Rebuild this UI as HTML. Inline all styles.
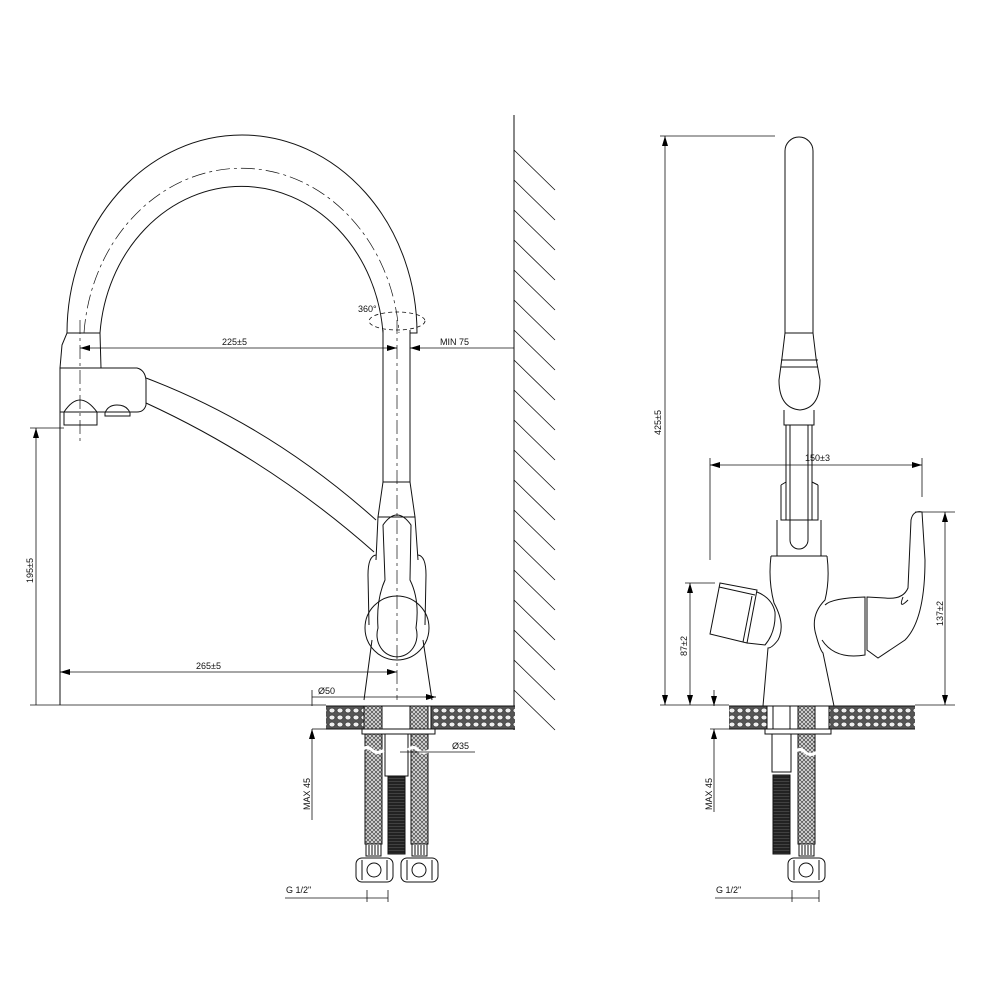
<!DOCTYPE html>
<html><head><meta charset="utf-8"><style>
html,body{margin:0;padding:0;background:#fff}
svg{display:block}
text{font-family:"Liberation Sans",sans-serif;font-size:9px;fill:#111}
</style></head><body>
<svg width="1000" height="1000" viewBox="0 0 1000 1000" xmlns="http://www.w3.org/2000/svg">
<defs>
<pattern id="cp" width="8" height="7" patternUnits="userSpaceOnUse">
<rect width="8" height="7" fill="#555"/>
<ellipse cx="4" cy="3.5" rx="3" ry="2.4" fill="#eee" stroke="#222" stroke-width="0.6"/>
</pattern>
<pattern id="br" width="4" height="4" patternUnits="userSpaceOnUse">
<rect width="4" height="4" fill="#ddd"/>
<path d="M0 0L2 2L4 0M0 4L2 2L4 4" stroke="#444" stroke-width="0.7" fill="none"/>
</pattern>
<pattern id="dk" width="4" height="3" patternUnits="userSpaceOnUse">
<rect width="4" height="3" fill="#222"/>
<path d="M0 1.5H4" stroke="#555" stroke-width="0.6"/>
</pattern>
<marker id="a" viewBox="0 0 10 6" refX="10" refY="3" markerWidth="10" markerHeight="6" orient="auto-start-reverse" markerUnits="userSpaceOnUse"><path d="M0 0L10 3L0 6z" fill="#000"/></marker>
</defs>
<g fill="none" stroke="#111" stroke-width="1">
<!-- wall -->
<line x1="514" y1="115" x2="514" y2="730"/>
<g stroke-width="0.8">
<path d="M514 150l41 40M514 180l41 40M514 210l41 40M514 240l41 40M514 270l41 40M514 300l41 40M514 330l41 40M514 360l41 40M514 390l41 40M514 420l41 40M514 450l41 40M514 480l41 40M514 510l41 40M514 540l41 40M514 570l41 40M514 600l41 40M514 630l41 40M514 660l41 40M514 690l41 40"/>
</g>
<!-- arc spout -->
<path d="M67 333 A175 198 0 0 1 417 333 L410 333"/>
<path d="M100 333 A142 160 0 0 1 383 333"/>
<path d="M84 333 A158 179 0 0 1 399 333" stroke-dasharray="14 4 3 4" stroke-width="0.7"/>
<line x1="410" y1="330" x2="410" y2="482"/>
<line x1="383" y1="330" x2="383" y2="482"/>
<ellipse cx="397" cy="321" rx="28" ry="9" stroke-dasharray="4 3" stroke-width="0.8"/>
<line x1="397" y1="320" x2="397" y2="700" stroke-dasharray="14 4 3 4" stroke-width="0.7"/>
<line x1="80" y1="320" x2="80" y2="445" stroke-dasharray="14 4 3 4" stroke-width="0.7"/>
<!-- left collar & head -->
<path d="M67 333 L100 333 L101 368 L60 368 L62 345 Z"/>
<path d="M60 368 L137 368 Q145 370 146 380 L146 405 Q144 412 137 412 L60 412 Z"/>
<path d="M64 412 L64 425 L97 425 L97 412"/>
<path d="M64 412 Q72 400 80 400 Q88 400 97 412"/>
<path d="M105 413 L105 416 L130 416 L130 413 Q127 405 117 405 Q108 405 105 413Z"/>
<line x1="60" y1="412" x2="60" y2="705"/>
<!-- pipe -->
<path d="M146 378 Q270 425 376 520"/>
<path d="M146 403 Q270 460 374 552"/>
<!-- body -->
<path d="M383 482 L410 482 L415 517 L378 517 Z"/>
<path d="M378 517 L376 560 M415 517 L418 560"/>
<path d="M383 525 Q397 505 411 525 L410 580 Q420 600 416 628 A20 22 0 1 1 378 628 Q376 600 385 580 Z"/>
<circle cx="397" cy="628" r="32"/>
<path d="M376 555 Q368 556 368 575 L369 625 M418 555 Q426 556 426 575 L425 625"/>
<path d="M372 640 L364 700 M423 640 L432 700"/>
<!-- countertop left -->
<rect x="326" y="706" width="189" height="23" fill="url(#cp)" stroke="none"/>
<rect x="364" y="706" width="67" height="23" fill="#fff"/>
<rect x="364" y="706" width="18" height="23" fill="url(#br)"/>
<rect x="410" y="706" width="18" height="23" fill="url(#br)"/>
<line x1="326" y1="706" x2="515" y2="706"/>
<line x1="326" y1="729" x2="515" y2="729"/>
<rect x="362" y="729" width="73" height="5" fill="#fff"/>
<rect x="385" y="734" width="23" height="42" fill="#fff"/>
<rect x="388" y="776" width="17" height="78" fill="url(#dk)"/>
<rect x="365" y="734" width="17" height="110" fill="url(#br)"/>
<rect x="411" y="734" width="17" height="110" fill="url(#br)"/>
<path d="M362 750 q5 -5 10 0 q5 5 12 0 M408 750 q5 -5 10 0 q5 5 12 0" stroke="#fff" stroke-width="3"/>
<rect x="366" y="844" width="15" height="12" fill="#fff"/>
<rect x="412" y="844" width="15" height="12" fill="#fff"/>
<path d="M369 845v10M372 845v10M375 845v10M378 845v10M415 845v10M418 845v10M421 845v10M424 845v10"/>
<rect x="356" y="858" width="37" height="24" rx="6"/>
<rect x="401" y="858" width="37" height="24" rx="6"/>
<circle cx="374" cy="870" r="7"/><circle cx="419" cy="870" r="7"/>
<path d="M362 860v20M387 860v20M407 860v20M432 860v20"/>
<!-- left dims -->
<g stroke-width="0.8">
<line x1="80" y1="348" x2="397" y2="348" marker-start="url(#a)"/>
<line x1="410" y1="348" x2="514" y2="348" marker-start="url(#a)"/>
<line x1="387" y1="348" x2="397" y2="348" marker-end="url(#a)"/>
<line x1="30" y1="428" x2="64" y2="428"/>
<line x1="36" y1="428" x2="36" y2="705" marker-start="url(#a)"/>
<line x1="30" y1="705" x2="326" y2="705"/>
<line x1="60" y1="672" x2="397" y2="672" marker-start="url(#a)" marker-end="url(#a)"/>
<line x1="312" y1="697" x2="436" y2="697"/>
<line x1="425" y1="697" x2="436" y2="697" marker-end="url(#a)"/>
<line x1="312" y1="690" x2="312" y2="706"/>
<line x1="312" y1="729" x2="326" y2="729"/>
<line x1="312" y1="729" x2="312" y2="820" marker-start="url(#a)"/>
<line x1="400" y1="752" x2="475" y2="752"/>
<line x1="367" y1="890" x2="367" y2="902"/>
<line x1="388" y1="890" x2="388" y2="902"/>
<line x1="285" y1="898" x2="388" y2="898"/>
</g>
<!-- RIGHT VIEW -->
<path d="M785 333 L785 151 A14 14 0 0 1 813 151 L813 333"/>
<path d="M785 333 L813 333 L816 358 L820 380 Q820 408 800 410 Q779 408 779 380 L782 358 Z"/>
<line x1="781" y1="360" x2="818" y2="360"/><line x1="781" y1="367" x2="818" y2="367"/>
<path d="M784 410 L784 425 L814 425 L814 410"/>
<path d="M786 425 L786 520 M812 425 L812 520 M790 425 L790 540 A9 9 0 0 0 808 540 L808 425"/>
<path d="M781 485 L786 482 M818 485 L812 482 M781 485 L781 520 L818 520 L818 485"/>
<path d="M777 520 L777 556 L821 556 L821 520"/>
<!-- body -->
<path d="M771 556 L827 556"/>
<path d="M771 556 Q768 580 774 603 Q786 625 778 640 Q772 648 768 648 L763 706"/>
<path d="M827 556 Q830 580 825 600 Q810 615 816 635 Q820 650 823 653 L834 706"/>
<!-- left cartridge -->
<path d="M720 583 L757 590 L747 643 L710 634 Z"/>
<path d="M719 587 L755 595"/>
<path d="M752 596 L743 642"/>
<path d="M757 592 Q772 598 775 612 Q776 632 765 645 L747 643"/>
<!-- right cartridge & lever -->
<path d="M825 605 Q832 598 865 597 L865 655 Q835 660 822 640"/>
<path d="M867 597 L885 598 Q903 600 908 588 L911 520 Q913 510 922 512 L925 560 Q925 620 905 640 L878 658 L867 650 Z"/>
<path d="M903 597 Q898 610 908 600"/>
<!-- right countertop -->
<rect x="729" y="706" width="186" height="23" fill="url(#cp)" stroke="none"/>
<rect x="767" y="706" width="62" height="23" fill="#fff"/>
<rect x="798" y="706" width="17" height="23" fill="url(#br)"/>
<path d="M773 706v23M790 706v23"/>
<line x1="729" y1="706" x2="915" y2="706"/>
<line x1="729" y1="729" x2="915" y2="729"/>
<rect x="765" y="729" width="66" height="5" fill="#fff"/>
<rect x="772" y="734" width="19" height="38" fill="#fff"/>
<rect x="773" y="775" width="17" height="79" fill="url(#dk)"/>
<rect x="798" y="734" width="17" height="110" fill="url(#br)"/>
<path d="M795 752 q5 -5 10 0 q5 5 12 0" stroke="#fff" stroke-width="3"/>
<rect x="799" y="844" width="15" height="12" fill="#fff"/>
<path d="M802 845v10M805 845v10M808 845v10M811 845v10"/>
<rect x="788" y="858" width="37" height="24" rx="6"/>
<circle cx="806" cy="870" r="7"/>
<path d="M794 860v20M819 860v20"/>
<!-- right dims -->
<g stroke-width="0.8">
<line x1="660" y1="136" x2="775" y2="136"/>
<line x1="665" y1="136" x2="665" y2="705" marker-start="url(#a)" marker-end="url(#a)"/>
<line x1="660" y1="705" x2="729" y2="705"/>
<line x1="710" y1="465" x2="922" y2="465" marker-start="url(#a)" marker-end="url(#a)"/>
<line x1="710" y1="458" x2="710" y2="560"/>
<line x1="922" y1="458" x2="922" y2="497"/>
<line x1="915" y1="512" x2="955" y2="512"/>
<line x1="945" y1="512" x2="945" y2="705" marker-start="url(#a)" marker-end="url(#a)"/>
<line x1="915" y1="705" x2="955" y2="705"/>
<line x1="685" y1="583" x2="715" y2="583"/>
<line x1="690" y1="583" x2="690" y2="705" marker-start="url(#a)" marker-end="url(#a)"/>
<line x1="714" y1="690" x2="714" y2="706" marker-end="url(#a)"/>
<line x1="710" y1="729" x2="729" y2="729"/>
<line x1="714" y1="729" x2="714" y2="812" marker-start="url(#a)"/>
<line x1="792" y1="890" x2="792" y2="902"/>
<line x1="819" y1="890" x2="819" y2="902"/>
<line x1="715" y1="898" x2="819" y2="898"/>
</g>
</g>
<text x="222" y="345">225±5</text>
<text x="440" y="345">MIN 75</text>
<text x="358" y="312">360°</text>
<text x="196" y="669">265±5</text>
<text x="318" y="694">Ø50</text>
<text x="452" y="749">Ø35</text>
<text x="286" y="893">G 1/2"</text>
<text x="716" y="893">G 1/2"</text>
<text x="805" y="461">150±3</text>
<text transform="translate(33 583) rotate(-90)">195±5</text>
<text transform="translate(310 810) rotate(-90)">MAX 45</text>
<text transform="translate(712 810) rotate(-90)">MAX 45</text>
<text transform="translate(661 435) rotate(-90)">425±5</text>
<text transform="translate(687 656) rotate(-90)">87±2</text>
<text transform="translate(943 626) rotate(-90)">137±2</text>
</svg>
</body></html>
